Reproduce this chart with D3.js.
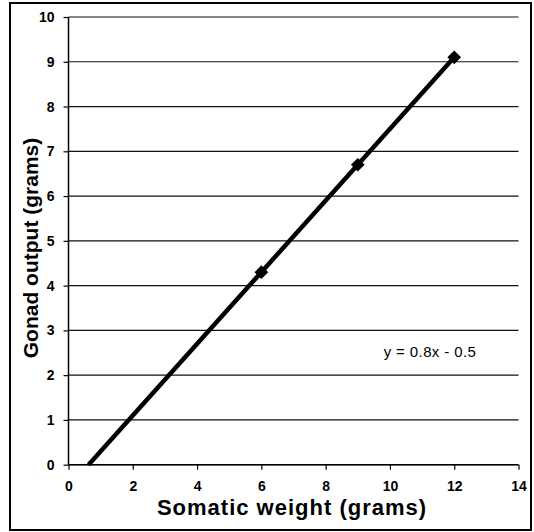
<!DOCTYPE html>
<html><head><meta charset="utf-8">
<script src="https://cdn.jsdelivr.net/npm/d3@7"></script>
<style>body{margin:0;background:#fff}svg{display:block}</style>
</head><body>
<script>
const xs = [6, 9, 12];
const ys = [4.3, 6.7, 9.1];
const trendX = [0.625, 12];
const trendY = [0, 9.1];
const xTicks = [0, 2, 4, 6, 8, 10, 12, 14];
const yTicks = [0, 1, 2, 3, 4, 5, 6, 7, 8, 9, 10];
const equation = "y = 0.8x - 0.5";

const W = 534, H = 532;
const svg = d3.select("body").append("svg").attr("width", W).attr("height", H);
svg.append("rect").attr("x", 10).attr("y", 3).attr("width", 521).attr("height", 527)
  .attr("fill", "#fff").attr("stroke", "#000").attr("stroke-width", 2);

const L = 68.5, R = 518.5, T = 17, B = 464.7;
const x = d3.scaleLinear().domain([0, 14]).range([L, R]);
const y = d3.scaleLinear().domain([0, 10]).range([B, T]);

// gridlines
svg.append("g").selectAll("line").data(yTicks).join("line")
  .attr("x1", L).attr("x2", R).attr("y1", d => y(d)).attr("y2", d => y(d))
  .attr("stroke", "#111").attr("stroke-width", 1.2);

const font = "'Liberation Sans', Arial, sans-serif";
const yAxis = svg.append("g").attr("transform", `translate(${L},0)`)
  .call(d3.axisLeft(y).tickValues(yTicks).tickSize(5).tickPadding(9).tickFormat(d3.format("d")));
const xAxis = svg.append("g").attr("transform", `translate(0,${B})`)
  .call(d3.axisBottom(x).tickValues(xTicks).tickSize(5).tickPadding(11).tickFormat(d3.format("d")));
[yAxis, xAxis].forEach(a => {
  a.select(".domain").attr("stroke", "#000").attr("stroke-width", 1.5);
  a.selectAll(".tick line").attr("stroke", "#000").attr("stroke-width", 1.2);
  a.selectAll(".tick text").attr("font-family", font).attr("font-size", 14)
    .attr("font-weight", "bold").attr("fill", "#000");
});
xAxis.select(".domain").attr("d", `M${L},0H${R}`);
yAxis.select(".domain").attr("d", `M0,${B}V${T}`);

// trendline
svg.append("path")
  .datum(trendX.map((d, i) => [d, trendY[i]]))
  .attr("d", d3.line().x(d => x(d[0])).y(d => y(d[1])))
  .attr("stroke", "#000").attr("stroke-width", 4.5).attr("fill", "none");

// markers
svg.append("g").selectAll("path").data(xs.map((d, i) => [d, ys[i]])).join("path")
  .attr("transform", d => `translate(${x(d[0])},${y(d[1])})`)
  .attr("d", d3.symbol(d3.symbolDiamond2, 120)())
  .attr("fill", "#000");

svg.append("text").attr("x", 430).attr("y", 357).attr("text-anchor", "middle")
  .attr("font-family", font).attr("font-size", 15).attr("letter-spacing", 0.4).text(equation);

svg.append("text").attr("x", 292).attr("y", 515).attr("text-anchor", "middle")
  .attr("font-family", font).attr("font-size", 22).attr("font-weight", "bold")
  .attr("letter-spacing", 1)
  .text("Somatic weight (grams)");
svg.append("text").attr("transform", `translate(38,248) rotate(-90)`)
  .attr("text-anchor", "middle")
  .attr("font-family", font).attr("font-size", 21).attr("font-weight", "bold")
  .text("Gonad output (grams)");
</script>
</body></html>
